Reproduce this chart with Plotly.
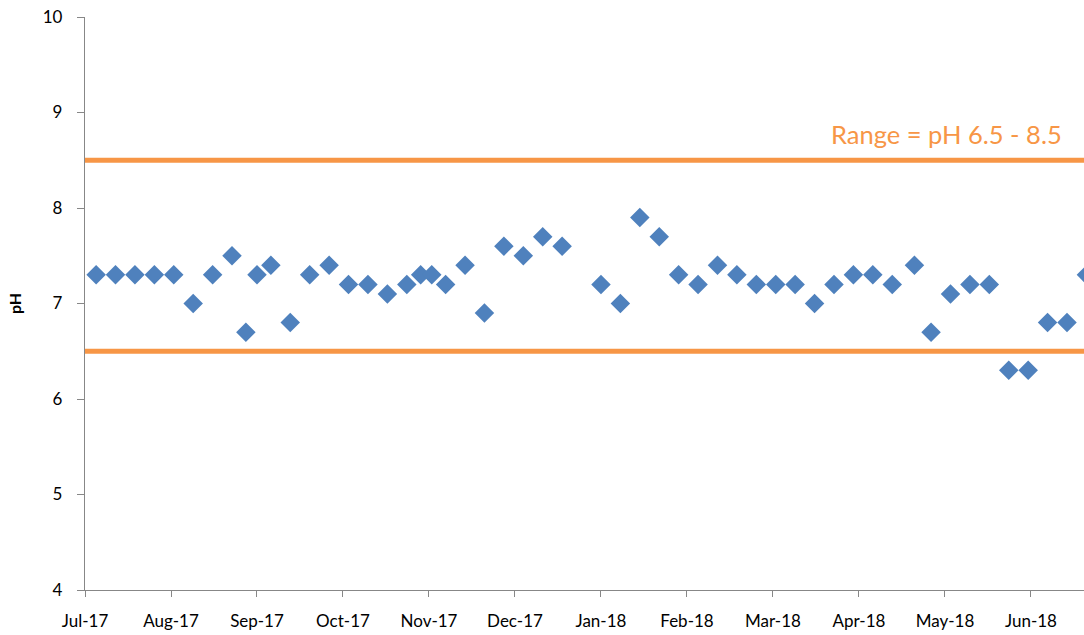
import plotly.graph_objects as go

# Sample dates and pH readings
dates = [
    "2017-07-05", "2017-07-12", "2017-07-19", "2017-07-26", "2017-08-02", "2017-08-09",
    "2017-08-16", "2017-08-23", "2017-08-28", "2017-09-01", "2017-09-06", "2017-09-13",
    "2017-09-20", "2017-09-27", "2017-10-04", "2017-10-11", "2017-10-18", "2017-10-25",
    "2017-10-30", "2017-11-03", "2017-11-08", "2017-11-15", "2017-11-22", "2017-11-29",
    "2017-12-06", "2017-12-13", "2017-12-20", "2018-01-03", "2018-01-10", "2018-01-17",
    "2018-01-24", "2018-01-31", "2018-02-07", "2018-02-14", "2018-02-21", "2018-02-28",
    "2018-03-07", "2018-03-14", "2018-03-21", "2018-03-28", "2018-04-04", "2018-04-11",
    "2018-04-18", "2018-04-26", "2018-05-02", "2018-05-09", "2018-05-16", "2018-05-23",
    "2018-05-30", "2018-06-06", "2018-06-13", "2018-06-20", "2018-06-27",
]
ph_values = [
    7.3, 7.3, 7.3, 7.3, 7.3, 7.0,
    7.3, 7.5, 6.7, 7.3, 7.4, 6.8,
    7.3, 7.4, 7.2, 7.2, 7.1, 7.2,
    7.3, 7.3, 7.2, 7.4, 6.9, 7.6,
    7.5, 7.7, 7.6, 7.2, 7.0, 7.9,
    7.7, 7.3, 7.2, 7.4, 7.3, 7.2,
    7.2, 7.2, 7.0, 7.2, 7.3, 7.3,
    7.2, 7.4, 6.7, 7.1, 7.2, 7.2,
    6.3, 6.3, 6.8, 6.8, 7.3,
]

# Acceptable range limits
range_limits = [6.5, 8.5]
range_label = "Range = pH 6.5 - 8.5"

# Axis tick dates (31-day major unit, labelled mmm-yy)
tick_dates = [
    "2017-07-01", "2017-08-01", "2017-09-01", "2017-10-02", "2017-11-02", "2017-12-03",
    "2018-01-03", "2018-02-03", "2018-03-06", "2018-04-06", "2018-05-07", "2018-06-07",
]
x_range = ["2017-07-01", "2018-06-26 03:00"]
y_range = [4, 10]

BLUE = "#4F81BD"
ORANGE = "#F79646"
AXIS = "#878787"
FONT = "Lato, 'Open Sans', sans-serif"

fig = go.Figure()

fig.add_trace(go.Scatter(
    x=dates, y=ph_values, mode="markers",
    marker=dict(symbol="diamond", size=15, color=BLUE, line=dict(width=0)),
    showlegend=False, cliponaxis=True,
))

for lim in range_limits:
    fig.add_hline(y=lim, line=dict(color=ORANGE, width=5), layer="below")

fig.add_annotation(
    x=0.7447, xref="paper", y=8.78, yref="y",
    text=range_label, showarrow=False,
    xanchor="left", yanchor="middle",
    font=dict(family=FONT, size=25.5, color=ORANGE),
)

fig.update_layout(
    width=1084, height=635,
    margin=dict(l=85, r=0, t=17, b=45, autoexpand=False),
    paper_bgcolor="white", plot_bgcolor="white",
    font=dict(family=FONT, size=16, color="#000000"),
    showlegend=False,
)

fig.update_xaxes(
    type="date", range=x_range, automargin=False,
    tickmode="array", tickvals=tick_dates, tickformat="%b-%y",
    ticks="outside", ticklen=6, tickwidth=1, tickcolor=AXIS,
    showline=True, linecolor=AXIS, linewidth=1.3,
    showgrid=False, zeroline=False,
    ticklabelstandoff=9,
    tickfont=dict(family=FONT, size=17, color="#000000"),
)

fig.update_yaxes(
    range=y_range, dtick=1, tick0=4, automargin=False,
    ticks="outside", ticklen=7, tickwidth=1, tickcolor=AXIS,
    showline=True, linecolor=AXIS, linewidth=1.3,
    showgrid=False, zeroline=False,
    ticklabelstandoff=11,
    tickfont=dict(family=FONT, size=17, color="#000000"),
    title=dict(text="<b>pH</b>", font=dict(family=FONT, size=16, color="#000000"), standoff=17),
)

fig.write_html(
    "out.html",
    config={"displayModeBar": False},
    post_script="document.body.style.margin='0';document.body.style.overflow='hidden';",
)
